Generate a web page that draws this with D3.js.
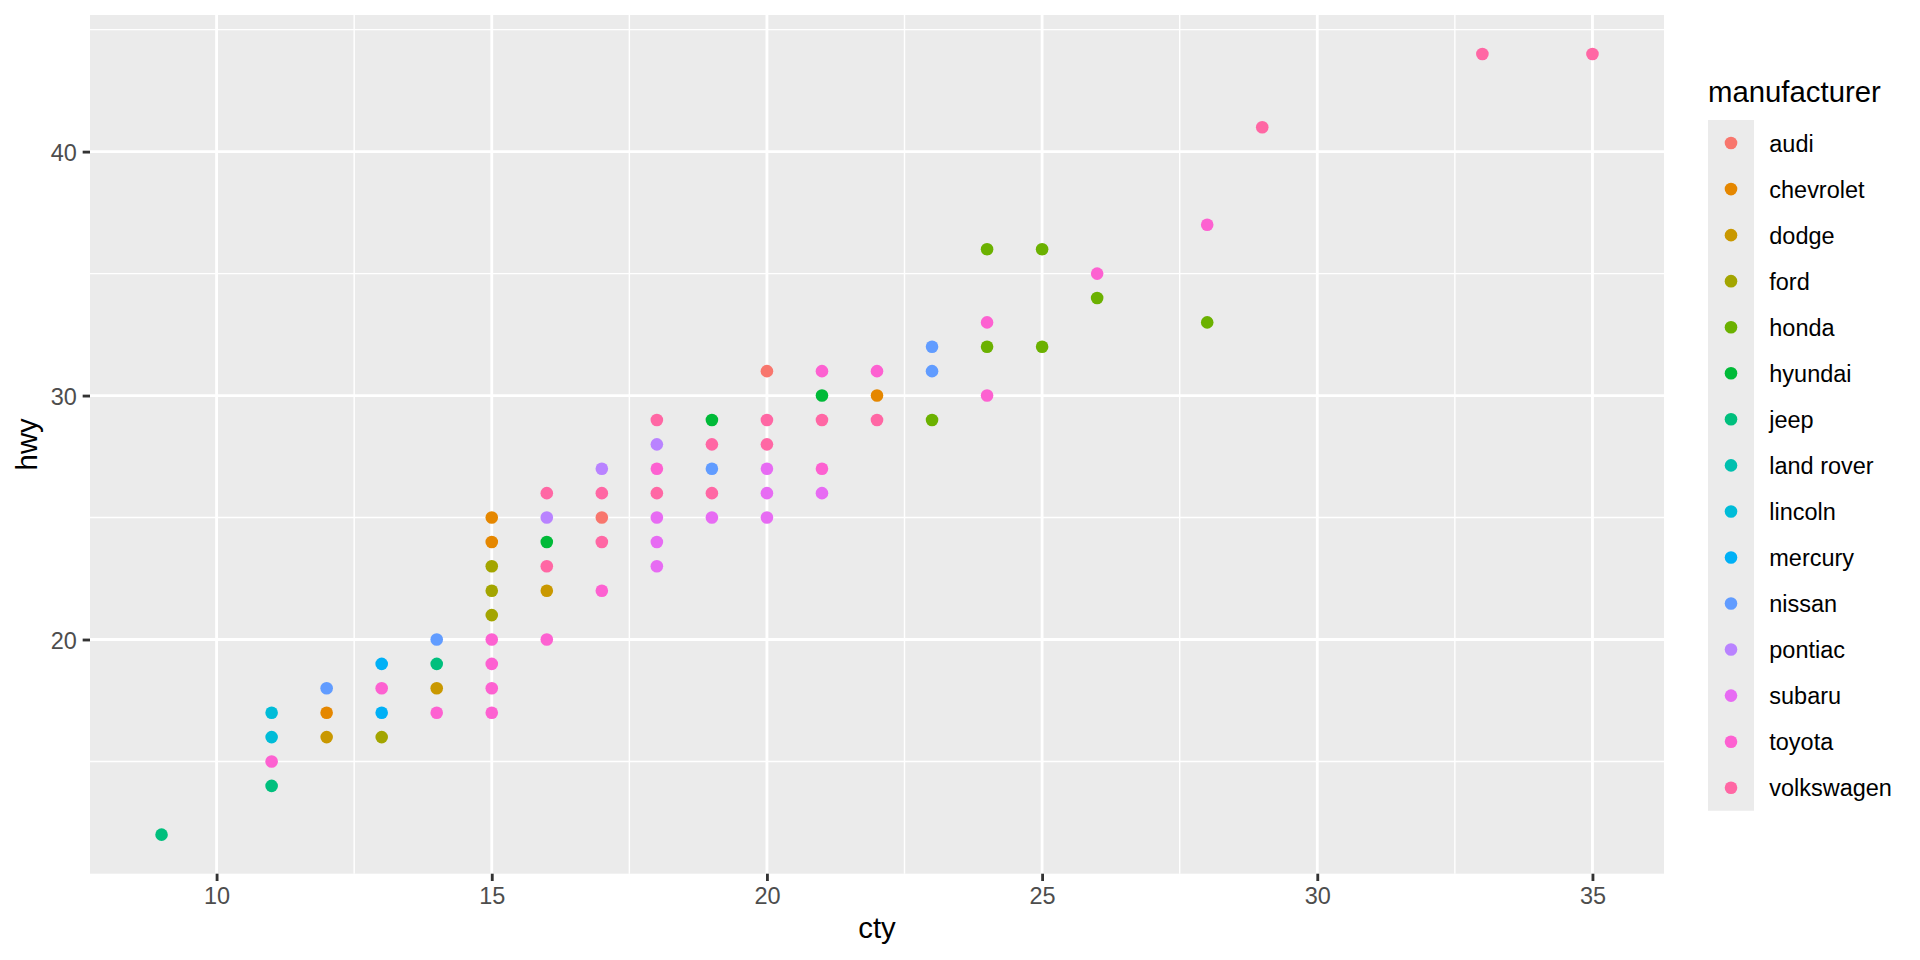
<!DOCTYPE html>
<html>
<head>
<meta charset="utf-8">
<script src="https://cdn.jsdelivr.net/npm/d3@7"></script>
<style>
  html, body { margin: 0; padding: 0; background: #ffffff; }
  svg { display: block; font-family: "Liberation Sans", Arial, Helvetica, sans-serif; }
</style>
</head>
<body>
<svg id="chart" width="1920" height="960"></svg>
<script>
// ---- Data (top-most visible point at each location) ----
const manufacturers = ["audi","chevrolet","dodge","ford","honda","hyundai","jeep","land rover",
  "lincoln","mercury","nissan","pontiac","subaru","toyota","volkswagen"];
const palette = ["#F8766D","#E58700","#C99800","#A3A500","#6BB100","#00BA38","#00BF7D","#00C0AF",
  "#00BCD8","#00B0F6","#619CFF","#B983FF","#E76BF3","#FD61D1","#FF67A4"];

const ctyValues = [9,11,11,11,11,12,12,12,13,13,13,13,14,14,14,14,
  15,15,15,15,15,15,15,15,15,16,16,16,16,16,16,17,17,17,17,17,
  18,18,18,18,18,18,18,19,19,19,19,19,20,20,20,20,20,20,
  21,21,21,21,21,22,22,22,23,23,23,24,24,24,24,25,25,26,26,28,28,29,33,35];
const hwyValues = [12,14,15,16,17,16,17,18,16,17,18,19,17,18,19,20,
  17,18,19,20,21,22,23,24,25,20,22,23,24,25,26,22,24,25,26,27,
  23,24,25,26,27,28,29,25,26,27,28,29,25,26,27,28,29,31,
  26,27,29,30,31,29,30,31,29,31,32,30,32,33,36,32,36,34,35,33,37,41,44,44];
const makerValues = ["jeep","jeep","toyota","lincoln","lincoln","dodge","chevrolet","nissan",
  "ford","mercury","toyota","mercury","toyota","dodge","jeep","nissan",
  "toyota","toyota","toyota","toyota","ford","ford","ford","chevrolet","chevrolet",
  "toyota","dodge","volkswagen","hyundai","pontiac","volkswagen",
  "toyota","volkswagen","audi","volkswagen","pontiac",
  "subaru","subaru","subaru","volkswagen","toyota","pontiac","volkswagen",
  "subaru","volkswagen","nissan","volkswagen","hyundai",
  "subaru","subaru","subaru","volkswagen","volkswagen","audi",
  "subaru","toyota","volkswagen","hyundai","toyota",
  "volkswagen","chevrolet","toyota",
  "honda","nissan","nissan",
  "toyota","honda","toyota","honda",
  "honda","honda","honda","toyota","honda","toyota","volkswagen","volkswagen","volkswagen"];

const xTicks = [10,15,20,25,30,35];
const xMinor = [12.5,17.5,22.5,27.5,32.5];
const yTicks = [20,30,40];
const yMinor = [15,25,35,45];

const points = ctyValues.map((c, i) => ({cty: c, hwy: hwyValues[i], maker: makerValues[i]}));

// ---- Layout ----
const panel = {left: 90, right: 1664, top: 15, bottom: 873.7};
const svg = d3.select("#chart");

const xExt = d3.extent(ctyValues), yExt = d3.extent(hwyValues);
const xPad = (xExt[1] - xExt[0]) * 0.05, yPad = (yExt[1] - yExt[0]) * 0.05;
const x = d3.scaleLinear().domain([xExt[0] - xPad, xExt[1] + xPad]).range([panel.left, panel.right]);
const y = d3.scaleLinear().domain([yExt[0] - yPad, yExt[1] + yPad]).range([panel.bottom, panel.top]);
const color = d3.scaleOrdinal().domain(manufacturers).range(palette);

const majorW = 2.84, minorW = 1.42;

// panel background
svg.append("rect")
  .attr("x", panel.left).attr("y", panel.top)
  .attr("width", panel.right - panel.left).attr("height", panel.bottom - panel.top)
  .attr("fill", "#EBEBEB");

const grid = svg.append("g");
// minor grid
grid.selectAll(".xminor").data(xMinor).join("line")
  .attr("x1", d => x(d)).attr("x2", d => x(d))
  .attr("y1", panel.top).attr("y2", panel.bottom)
  .attr("stroke", "#fff").attr("stroke-width", minorW);
grid.selectAll(".yminor").data(yMinor).join("line")
  .attr("y1", d => y(d)).attr("y2", d => y(d))
  .attr("x1", panel.left).attr("x2", panel.right)
  .attr("stroke", "#fff").attr("stroke-width", minorW);
// major grid
grid.selectAll(".xmajor").data(xTicks).join("line")
  .attr("x1", d => x(d)).attr("x2", d => x(d))
  .attr("y1", panel.top).attr("y2", panel.bottom)
  .attr("stroke", "#fff").attr("stroke-width", majorW);
grid.selectAll(".ymajor").data(yTicks).join("line")
  .attr("y1", d => y(d)).attr("y2", d => y(d))
  .attr("x1", panel.left).attr("x2", panel.right)
  .attr("stroke", "#fff").attr("stroke-width", majorW);

// points
svg.append("g").selectAll("circle").data(points).join("circle")
  .attr("cx", d => x(d.cty)).attr("cy", d => y(d.hwy))
  .attr("r", 6.3)
  .attr("fill", d => color(d.maker));

// axes
const tickLen = 7.33;
const xAxis = svg.append("g")
  .attr("transform", `translate(0,${panel.bottom})`)
  .call(d3.axisBottom(x).tickValues(xTicks).tickSize(tickLen).tickPadding(5.9).tickFormat(d3.format("d")));
const yAxis = svg.append("g")
  .attr("transform", `translate(${panel.left},0)`)
  .call(d3.axisLeft(y).tickValues(yTicks).tickSize(tickLen).tickPadding(5.9).tickFormat(d3.format("d")));
[xAxis, yAxis].forEach(a => {
  a.select(".domain").remove();
  a.selectAll(".tick line").attr("stroke", "#333333").attr("stroke-width", majorW);
  a.selectAll(".tick text").attr("fill", "#4D4D4D")
    .style("font-size", "23.47px")
    .style("font-family", "'Liberation Sans', Arial, Helvetica, sans-serif");
});
xAxis.selectAll(".tick text").attr("dy", null).attr("y", tickLen + 5.9 + 17.3);
yAxis.selectAll(".tick text").attr("dy", null).attr("y", 8.6);

// axis titles
svg.append("text")
  .attr("x", (panel.left + panel.right) / 2).attr("y", 938)
  .attr("text-anchor", "middle")
  .style("font-size", "29.33px").attr("fill", "#000")
  .text("cty");
svg.append("text")
  .attr("transform", `translate(37,${(panel.top + panel.bottom) / 2}) rotate(-90)`)
  .attr("text-anchor", "middle")
  .style("font-size", "29.33px").attr("fill", "#000")
  .text("hwy");

// legend
const legX = 1708, legY = 120, keyW = 46, keyH = 46.05;
const legend = svg.append("g");
legend.append("text")
  .attr("x", legX).attr("y", 102)
  .style("font-size", "29.33px").attr("fill", "#000")
  .text("manufacturer");
legend.append("rect")
  .attr("x", legX).attr("y", legY)
  .attr("width", keyW).attr("height", keyH * manufacturers.length)
  .attr("fill", "#EBEBEB");
const items = legend.selectAll(".item").data(manufacturers).join("g")
  .attr("transform", (d, i) => `translate(${legX},${legY + i * keyH})`);
items.append("circle")
  .attr("cx", keyW / 2).attr("cy", keyH / 2).attr("r", 6.3)
  .attr("fill", d => color(d));
items.append("text")
  .attr("x", 61.3).attr("y", keyH / 2 + 8.6)
  .style("font-size", "23.47px").attr("fill", "#000")
  .text(d => d);
</script>
</body>
</html>
